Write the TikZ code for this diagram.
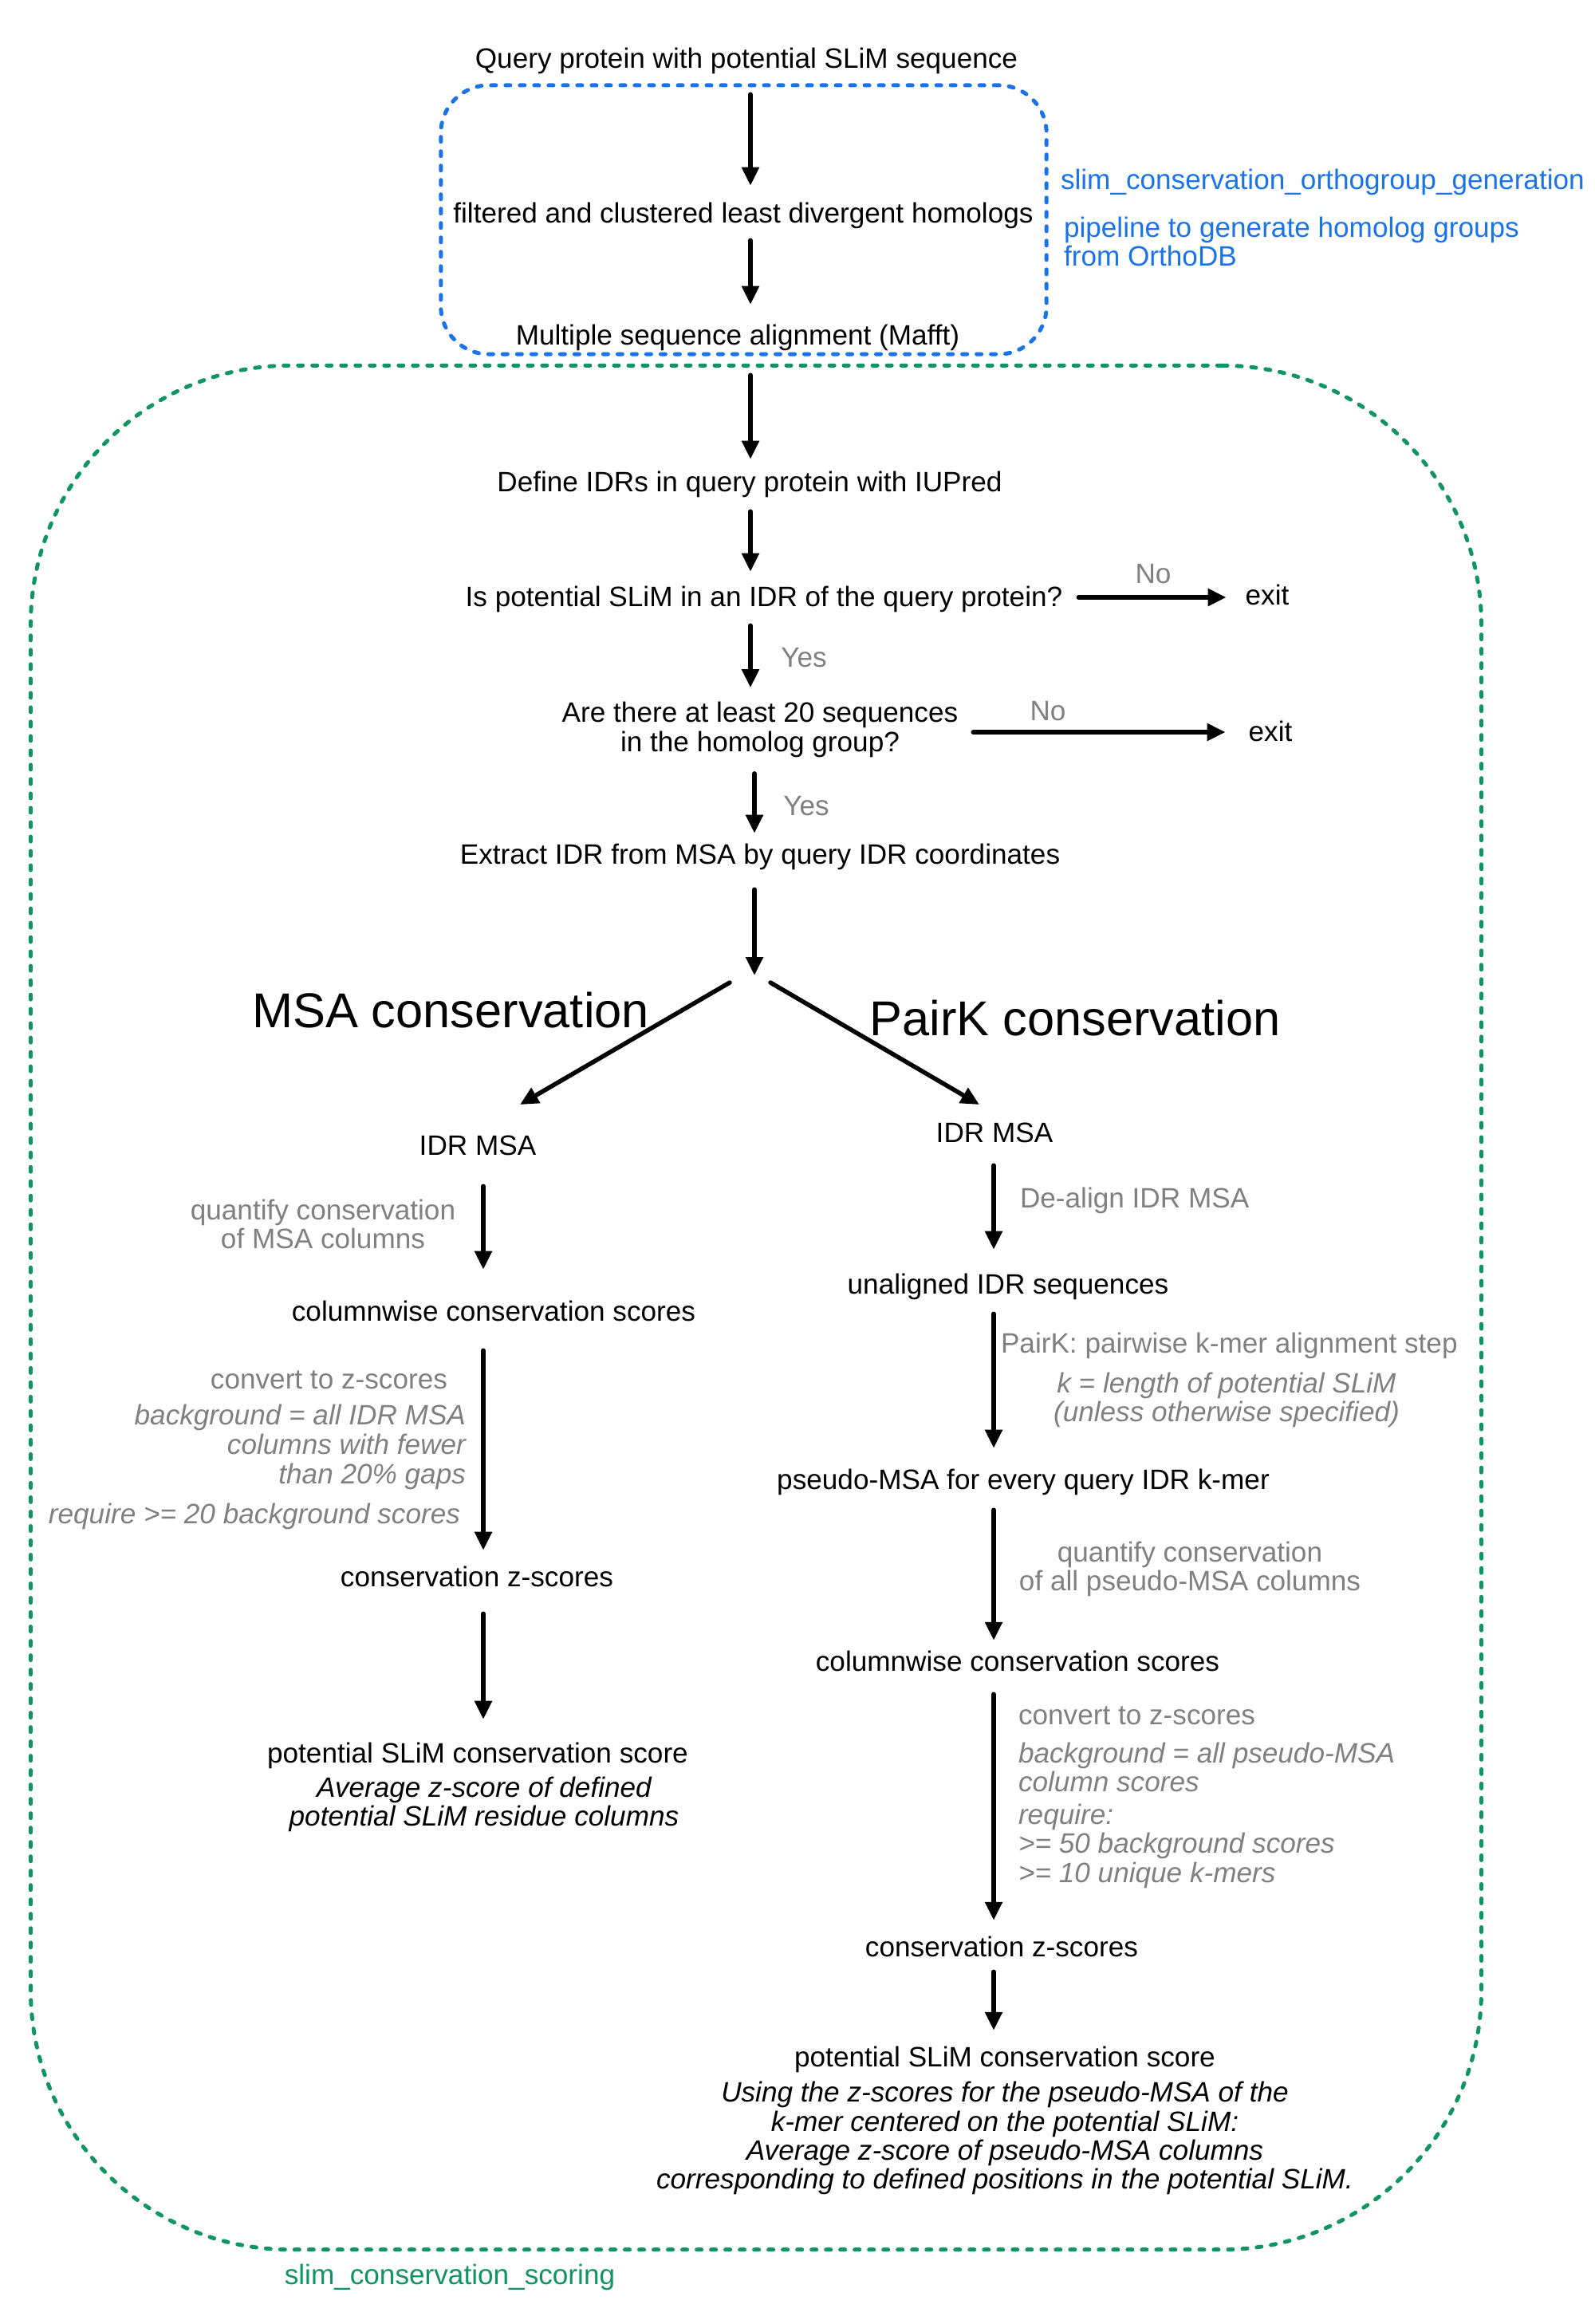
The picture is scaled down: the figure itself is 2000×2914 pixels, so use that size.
\documentclass[tikz,border=0pt]{standalone}
\usepackage{fontspec}
\setmainfont{Liberation Sans}
\usetikzlibrary{arrows.meta,calc}
\definecolor{gblue}{RGB}{26,115,232}
\definecolor{ggreen}{RGB}{16,148,98}
\definecolor{gtxt}{RGB}{128,128,128}
\newcommand\dfont{\fontsize{10pt}{10.3pt}\selectfont}
\newcommand\dfontw{\fontsize{10pt}{10.5pt}\selectfont}
\begin{document}
\begin{tikzpicture}[x=0.01cm,y=-0.01cm,
 t/.style={font=\dfont,inner sep=0pt,outer sep=0pt,text height=0.281cm,text depth=0.044cm},
 ml/.style={font=\dfont,inner sep=0pt,outer sep=0pt,align=center},
 gr/.style={text=gtxt},
 itl/.style={font=\dfont\itshape},
 big/.style={font=\fontsize{17.45pt}{19pt}\selectfont,inner sep=0pt,outer sep=0pt,text height=0.44cm,text depth=0.13cm},
 arr/.style={line width=0.055cm,line cap=round,-{Triangle[length=0.23cm,width=0.21cm]}},
 grp/.style={draw,line width=0.05cm,line cap=round,dash pattern=on 0.06cm off 0.12cm,inner sep=0pt,outer sep=0pt}
]
\useasboundingbox (0,0) rectangle (2000,2914);

% group boxes
\node[grp,draw=ggreen,rounded corners=3.25cm,minimum width=18.18cm,minimum height=23.61cm] (greenbox) at (948,1639.5) {};
\node[grp,draw=gblue,rounded corners=0.6cm,minimum width=7.59cm,minimum height=3.37cm] (bluebox) at (932.5,275.5) {};

% top part
\node[t] (q) at (936,74) {Query protein with potential SLiM sequence};
\node[t] (f) at (932,268) {filtered and clustered least divergent homologs};
\node[t] (m) at (925,421) {Multiple sequence alignment (Mafft)};
\node[t,text=gblue,anchor=west] (lb1) at (1330,226) {slim\_conservation\_orthogroup\_generation};
\node[ml,text=gblue,align=left,anchor=west] (lb2) at (1334,303) {pipeline to generate homolog groups\\from OrthoDB};

\node[t] (d) at (940,605) {Define IDRs in query protein with IUPred};
\node[t] (p) at (958,749) {Is potential SLiM in an IDR of the query protein?};
\node[t,gr] (no1) at (1446,720) {No};
\node[t] (e1) at (1589,747) {exit};
\node[t,gr] (yes1) at (1008,825) {Yes};
\node[ml,font=\dfontw] (a) at (953,915) {Are there at least 20 sequences\\in the homolog group?};
\node[t,gr] (no2) at (1314,892) {No};
\node[t] (e2) at (1593,918) {exit};
\node[t,gr] (yes2) at (1011,1011) {Yes};
\node[t] (x) at (953,1072) {Extract IDR from MSA by query IDR coordinates};

\node[big] (hM) at (565,1273) {MSA conservation};
\node[big] (hP) at (1348,1283) {PairK conservation};

% left branch
\node[t] (iL) at (599,1437) {IDR MSA};
\node[ml,gr] (gL1) at (405,1535) {quantify conservation\\of MSA columns};
\node[t] (cL) at (619,1645) {columnwise conservation scores};
\node[t,gr,anchor=east] (gL2) at (561,1730) {convert to z-scores};
\node[ml,itl,font=\dfontw\itshape,gr,align=right,anchor=east] (gL3) at (584,1814) {background = all IDR MSA\\columns with fewer\\than 20\% gaps};
\node[t,itl,gr,anchor=east] (gL4) at (577,1899) {require >= 20 background scores};
\node[t] (zL) at (598,1978) {conservation z-scores};
\node[t] (sL) at (599,2199) {potential SLiM conservation score};
\node[ml,itl] (sL2) at (607,2262) {Average z-score of defined\\potential SLiM residue columns};

% right branch
\node[t] (iR) at (1247,1421) {IDR MSA};
\node[t,gr,anchor=west] (gR1) at (1279,1503) {De-align IDR MSA};
\node[t] (u) at (1264,1611) {unaligned IDR sequences};
\node[t,gr,anchor=west] (gR2) at (1255,1685) {PairK: pairwise k-mer alignment step};
\node[ml,itl,gr] (gR3) at (1538,1755) {k = length of potential SLiM\\(unless otherwise specified)};
\node[t] (ps) at (1283,1856) {pseudo-MSA for every query IDR k-mer};
\node[ml,gr] (gR4) at (1492,1967) {quantify conservation\\of all pseudo-MSA columns};
\node[t] (cR) at (1276,2084) {columnwise conservation scores};
\node[t,gr,anchor=west] (gR5) at (1277,2151) {convert to z-scores};
\node[ml,itl,gr,align=left,anchor=west] (gR6) at (1277,2276) {background = all pseudo-MSA\\column scores\\[0.05cm]require:\\>= 50 background scores\\>= 10 unique k-mers};
\node[t] (zR) at (1256,2442) {conservation z-scores};
\node[t] (sR) at (1260,2580) {potential SLiM conservation score};
\node[ml,itl] (sR2) at (1260,2681) {Using the z-scores for the pseudo-MSA of the\\k-mer centered on the potential SLiM:\\Average z-score of pseudo-MSA columns\\corresponding to defined positions in the potential SLiM.};

\node[t,text=ggreen] (lg) at (564,2853) {slim\_conservation\_scoring};

% arrow columns and free ends
\coordinate (xA) at (941,0);
\coordinate (xB) at (946,0);
\coordinate (xL) at (606,0);
\coordinate (xR) at (1246,0);
\coordinate (split) at (946,1223);
\coordinate (sl) at (915,1232);
\coordinate (sr) at (966,1232);
\coordinate (tl) at (652,1385);
\coordinate (tr) at (1228,1385);

% main column arrows
\draw[arr,shorten <=0.28cm,shorten >=0.19cm] (q.south -| xA) -- (f.north -| xA);
\draw[arr,shorten <=0.17cm,shorten >=0.23cm] (f.south -| xA) -- (m.north -| xA);
\draw[arr,shorten <=0.33cm,shorten >=0.13cm] (m.south -| xA) -- (d.north -| xA);
\draw[arr,shorten <=0.20cm,shorten >=0.16cm] (d.south -| xA) -- (p.north -| xA);
\draw[arr,shorten <=0.19cm,shorten >=0.18cm] (p.south -| xA) -- (a.north -| xA);
\draw[arr,shorten <=0.20cm,shorten >=0.11cm] (a.south -| xB) -- (x.north -| xB);
\draw[arr,shorten <=0.27cm] (x.south -| xB) -- (split);
\draw[arr,shorten <=0.20cm,shorten >=0.24cm] (p.east) -- (p.east -| e1.west);
\draw[arr,shorten <=0.19cm,shorten >=0.29cm] (e2.west -| a.east) -- (e2.west);

% split
\draw[arr] (sl) -- (tl);
\draw[arr] (sr) -- (tr);

% left branch arrows
\draw[arr,shorten <=0.34cm,shorten >=0.37cm] (iL.south -| xL) -- (cL.north -| xL);
\draw[arr,shorten <=0.32cm,shorten >=0.18cm] (cL.south -| xL) -- (zL.north -| xL);
\draw[arr,shorten <=0.29cm,shorten >=0.27cm] (zL.south -| xL) -- (sL.north -| xL);

% right branch arrows
\draw[arr,shorten <=0.24cm,shorten >=0.28cm] (iR.south -| xR) -- (u.north -| xR);
\draw[arr,shorten <=0.20cm,shorten >=0.24cm] (u.south -| xR) -- (ps.north -| xR);
\draw[arr,shorten <=0.21cm,shorten >=0.11cm] (ps.south -| xR) -- (cR.north -| xR);
\draw[arr,shorten <=0.24cm,shorten >=0.18cm] (cR.south -| xR) -- (zR.north -| xR);
\draw[arr,shorten <=0.14cm,shorten >=0.18cm] (zR.south -| xR) -- (sR.north -| xR);
\end{tikzpicture}
\end{document}
